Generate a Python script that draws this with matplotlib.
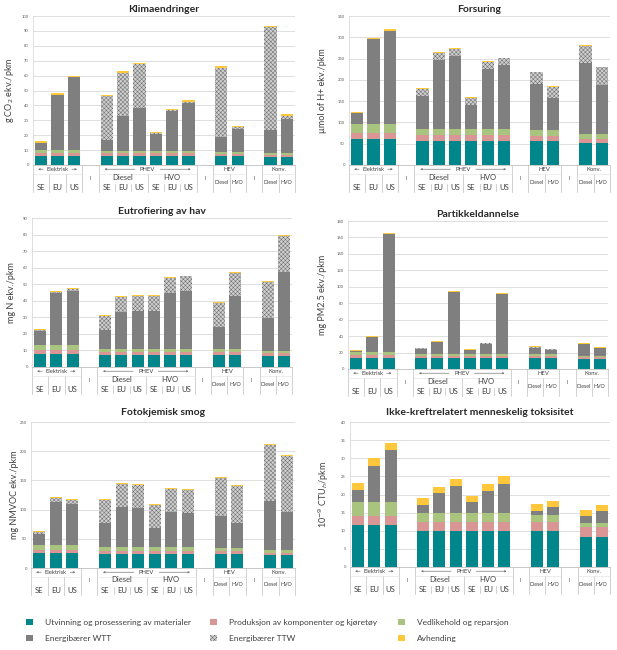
import matplotlib
matplotlib.use("Agg")
import matplotlib.pyplot as plt
from matplotlib.patches import Rectangle
from matplotlib.transforms import blended_transform_factory
import numpy as np

plt.rcParams['font.family'] = ['Lato', 'DejaVu Sans']
plt.rcParams['hatch.linewidth'] = 0.35

# ---------------- data ----------------
# bar order: Elektrisk SE/EU/US, PHEV Diesel SE/EU/US, PHEV HVO SE/EU/US,
#            HEV Diesel/HVO, Konv. Diesel/HVO
bottom_labels = ['SE', 'EU', 'US', 'SE', 'EU', 'US', 'SE', 'EU', 'US',
                 'Diesel', 'HVO', 'Diesel', 'HVO']
mid_labels = ['Diesel', 'HVO']
group_labels = ['Elektrisk', 'PHEV', 'HEV', 'Konv.']
series_names = ['Utvinning og prosessering av materialer',
                'Produksjon av komponenter og kjøretøy',
                'Vedlikehold og reparsjon',
                'Energibærer WTT', 'Energibærer TTW', 'Avhending']

klima_utv = [6.3, 6.3, 6.3, 6.2, 6.2, 6.2, 6.2, 6.2, 6.2, 6.0, 6.0, 5.5, 5.5]
klima_prod = [1.7, 1.7, 1.7, 1.6, 1.6, 1.6, 1.6, 1.6, 1.6, 1.5, 1.5, 1.5, 1.5]
klima_vedl = [2.0, 2.0, 2.0, 1.7, 1.7, 1.7, 1.7, 1.7, 1.7, 1.5, 1.5, 1.0, 1.0]
klima_wtt = [5.0, 37.0, 49.0, 7.5, 23.2, 29.0, 11.0, 26.5, 32.3, 10.0, 15.0, 15.8, 23.0]
klima_ttw = [0.0, 0.0, 0.0, 29.0, 29.3, 29.0, 0.8, 0.8, 0.8, 46.2, 1.3, 68.5, 2.0]
klima_avh = [1.0, 1.0, 1.0, 1.0, 1.0, 1.0, 0.9, 1.0, 0.9, 1.0, 1.0, 1.2, 1.0]

fors_utv = [60, 60, 60, 56.4, 56.4, 56.4, 56.4, 56.4, 56.4, 56, 56, 51, 51]
fors_prod = [14.4, 14.4, 14.4, 13.6, 13.6, 13.6, 13.6, 13.6, 13.6, 12, 12, 10, 10]
fors_vedl = [21, 21, 21, 14, 14, 14, 14, 14, 14, 14, 14, 11, 11]
fors_wtt = [26.5, 201.5, 220.5, 77, 162, 171, 57, 141.5, 150, 107.5, 74.5, 167.5, 116.7]
fors_ttw = [0, 0, 0, 18, 18, 17.5, 16, 16.5, 16.5, 28, 26.5, 40.5, 40.7]
fors_avh = [2, 2.5, 2.5, 2, 1.5, 1.5, 2, 1.5, 1.5, 1.5, 1.5, 2, 1.6]

eutro_utv = [8, 8, 8, 7.4, 7.4, 7.4, 7.4, 7.4, 7.4, 7.4, 7.4, 6.8, 6.8]
eutro_prod = [2, 2, 2, 1.6, 1.6, 1.6, 1.6, 1.6, 1.6, 1.6, 1.6, 1.4, 1.4]
eutro_vedl = [3, 3, 3, 2, 2, 2, 2, 2, 2, 1.8, 1.8, 1.4, 1.4]
eutro_wtt = [8.5, 31.6, 32.8, 11.3, 22.3, 23, 23, 34, 34.8, 13.2, 32, 20.1, 47.8]
eutro_ttw = [0.8, 1.0, 1.4, 8.7, 9.1, 9, 9, 9, 9, 14.4, 14.2, 21.7, 21.7]
eutro_avh = [0.7, 0.5, 0.4, 0.5, 0.4, 0.4, 0.4, 0.4, 0.4, 0.6, 0.6, 0.4, 0.6]

part_utv = [13.8, 13.8, 13.8, 13.4, 13.4, 13.4, 13.4, 13.4, 13.4, 13.4, 13.4, 12.6, 12.6]
part_prod = [3.2, 3.2, 3.2, 2, 2, 2, 2, 2, 2, 2, 2, 1.6, 1.6]
part_vedl = [3.7, 3.7, 3.7, 2.8, 2.8, 2.8, 2.8, 2.8, 2.8, 2.4, 2.4, 2, 2]
part_wtt = [1.8, 18.3, 143.3, 6.1, 14.2, 75, 4.5, 12.6, 72.6, 8.2, 5.2, 13.8, 8.8]
part_ttw = [0, 0, 0, 0.7, 0.8, 0.8, 0.8, 0.8, 0.8, 0.8, 1.0, 0.8, 1.0]
part_avh = [1.0, 0.7, 1.0, 0.8, 0.8, 0.5, 0.5, 0.4, 0.4, 0.8, 0.3, 0.8, 0.8]

smog_utv = [25.7, 25.7, 25.7, 24.5, 24.5, 24.5, 24.5, 24.5, 24.5, 24.5, 24.5, 21.7, 21.7]
smog_prod = [5.7, 5.7, 5.7, 4.5, 4.5, 4.5, 4.5, 4.5, 4.5, 4.5, 4.5, 4.6, 4.6]
smog_vedl = [8.6, 8.6, 8.6, 6.4, 6.4, 6.4, 6.4, 6.4, 6.4, 5.8, 5.8, 4.5, 4.5]
smog_wtt = [17.6, 72.4, 70, 41.1, 69.1, 66.6, 33.6, 59.9, 58.2, 54.8, 41.7, 83.9, 65.1]
smog_ttw = [4.6, 6.9, 6.4, 39.4, 39.3, 40, 39.4, 40, 40, 63.9, 63.9, 95.9, 95.3]
smog_avh = [1.2, 1.7, 1.6, 1.7, 1.7, 1.8, 1.6, 1.7, 1.7, 1.5, 1.6, 1.7, 1.8]

tox_utv = [11.6, 11.6, 11.6, 9.9, 9.9, 9.9, 9.9, 9.9, 9.9, 9.8, 9.8, 8.3, 8.3]
tox_prod = [2.5, 2.5, 2.5, 2.5, 2.5, 2.5, 2.5, 2.5, 2.5, 2.6, 2.6, 2.6, 2.6]
tox_vedl = [3.8, 3.8, 3.8, 2.5, 2.5, 2.5, 2.5, 2.5, 2.5, 2.0, 2.0, 1.2, 1.2]
tox_wtt = [3.4, 10, 14.3, 2.3, 5.5, 7.5, 3.0, 6.0, 8.1, 1.1, 2.2, 1.9, 3.3]
tox_ttw = [0, 0, 0, 0, 0, 0, 0, 0, 0, 0, 0, 0, 0]
tox_avh = [1.9, 2.2, 1.9, 1.9, 1.8, 1.9, 1.7, 1.9, 2.0, 1.9, 1.7, 1.7, 1.8]

# ---------------- style ----------------
C_UTV = '#00868B'
C_PROD = '#D99694'
C_VEDL = '#A9C47F'
C_WTT = '#7F7F7F'
C_TTW = '#CFCFCF'
C_HATCH = '#6E6E6E'
C_AVH = '#FFC83C'
colors = [C_UTV, C_PROD, C_VEDL, C_WTT, C_TTW, C_AVH]
HATCH = 'xxxxxxxx'

W, H = 617, 650
fig = plt.figure(figsize=(W / 100, H / 100), dpi=100)

slots = [0, 1, 2, 4, 5, 6, 7, 8, 9, 11, 12, 14, 15]


def add_ax(l, r, t, b):
    return fig.add_axes([l / W, 1 - b / H, (r - l) / W, (b - t) / H])


def draw_panel(ax, title, ylabel, ymax, ystep, series, hpx, ylab_x, title_pad=3):
    bottom = np.zeros(len(slots))
    for i, vals in enumerate(series):
        vals = np.array(vals, dtype=float)
        if i == 4:
            ax.bar(slots, vals, 0.75, bottom=bottom, color=C_TTW, edgecolor=C_HATCH,
                   hatch=HATCH, linewidth=0, zorder=3)
        else:
            ax.bar(slots, vals, 0.75, bottom=bottom, color=colors[i], linewidth=0, zorder=3)
        bottom += vals
    ax.set_xlim(-0.5, 15.5)
    ax.set_ylim(0, ymax)
    ax.set_yticks(np.arange(0, ymax + 0.01, ystep))
    ax.tick_params(axis='y', labelsize=3, colors='#595959', length=0, pad=3)
    ax.set_xticks([])
    ax.grid(axis='y', color='#D9D9D9', linewidth=0.6, zorder=0)
    for s in ['top', 'right']:
        ax.spines[s].set_visible(False)
    ax.spines['left'].set_color('#D9D9D9')
    ax.spines['left'].set_linewidth(0.6)
    ax.spines['bottom'].set_color('#BFBFBF')
    ax.spines['bottom'].set_linewidth(0.6)
    ax.set_title(title, fontsize=7.5, fontweight='bold', color='#262626', pad=title_pad)
    ax.set_ylabel(ylabel, fontsize=6.5, color='#404040')
    ax.yaxis.set_label_coords(ylab_x, 0.5)

    tr = blended_transform_factory(ax.transData, ax.transAxes)

    def fy(px):
        return -px / hpx

    lc = '#BFBFBF'
    lw = 0.5
    # vertical separators
    for x in [-0.5, 2.5, 3.5, 9.5, 10.5, 12.5, 13.5, 15.5]:
        ax.plot([x, x], [0, fy(27)], transform=tr, color=lc, lw=lw, clip_on=False)
    for x in [0.5, 1.5, 6.5, 11.5, 14.5]:
        ax.plot([x, x], [fy(8.5), fy(27)], transform=tr, color=lc, lw=lw, clip_on=False)
    for x in [4.5, 5.5, 7.5, 8.5]:
        ax.plot([x, x], [fy(19), fy(26)], transform=tr, color=lc, lw=lw, clip_on=False)
    for a, b in [(-0.5, 2.5), (3.5, 9.5), (10.5, 12.5), (13.5, 15.5)]:
        ax.plot([a, b], [fy(8.5), fy(8.5)], transform=tr, color='#E0E0E0', lw=0.4, clip_on=False)

    tcol = '#404040'
    # group labels row
    ax.text(1, fy(4.2), group_labels[0], transform=tr, ha='center', va='center',
            fontsize=4.2, color=tcol, bbox=dict(facecolor='white', edgecolor='none', pad=0.3))
    ax.text(6.5, fy(4.2), group_labels[1], transform=tr, ha='center', va='center',
            fontsize=4.2, color=tcol, bbox=dict(facecolor='white', edgecolor='none', pad=0.3))
    ax.text(11.5, fy(4.2), group_labels[2], transform=tr, ha='center', va='center',
            fontsize=4.2, color=tcol)
    ax.text(14.5, fy(4.2), group_labels[3], transform=tr, ha='center', va='center',
            fontsize=4.2, color=tcol)
    arr = dict(arrowstyle='->', lw=0.4, color='#595959', mutation_scale=3)
    for x0, x1 in [(0.3, -0.35), (1.7, 2.35), (5.9, 3.7), (7.1, 9.3)]:
        ax.annotate('', xy=(x1, fy(4.2)), xytext=(x0, fy(4.2)), xycoords=tr, textcoords=tr,
                    arrowprops=arr, annotation_clip=False)
    # PHEV mid labels
    ax.text(5, fy(12), mid_labels[0], transform=tr, ha='center', va='center', fontsize=5.5, color=tcol)
    ax.text(8, fy(12), mid_labels[1], transform=tr, ha='center', va='center', fontsize=5.5, color=tcol)
    # gap markers
    for x in [3, 10, 13]:
        ax.text(x, fy(13), 'I', transform=tr, ha='center', va='center', fontsize=3.5, color=tcol)
    # bottom labels
    for x, lab in zip(slots, bottom_labels):
        if lab in ('SE', 'EU', 'US'):
            ax.text(x, fy(22.5), lab, transform=tr, ha='center', va='center', fontsize=5.5, color=tcol)
        else:
            ax.text(x, fy(17), lab, transform=tr, ha='center', va='center', fontsize=3.8, color=tcol)


ax1 = add_ax(33, 295, 16, 165)
draw_panel(ax1, 'Klimaendringer', 'g CO$_2$ ekv./pkm', 100, 10,
           [klima_utv, klima_prod, klima_vedl, klima_wtt, klima_ttw, klima_avh], 149, -0.065)
ax2 = add_ax(349, 610, 16, 165)
draw_panel(ax2, 'Forsuring', 'µmol of H+ ekv./pkm', 350, 50,
           [fors_utv, fors_prod, fors_vedl, fors_wtt, fors_ttw, fors_avh], 149, -0.084)
ax3 = add_ax(32, 292, 218, 367)
draw_panel(ax3, 'Eutrofiering av hav', 'mg N ekv./pkm', 90, 10,
           [eutro_utv, eutro_prod, eutro_vedl, eutro_wtt, eutro_ttw, eutro_avh], 149, -0.062)
ax4 = add_ax(348, 608, 221, 369)
draw_panel(ax4, 'Partikkeldannelse', 'mg PM2.5 ekv./pkm', 180, 20,
           [part_utv, part_prod, part_vedl, part_wtt, part_ttw, part_avh], 148, -0.081)
ax5 = add_ax(31, 295, 422, 568)
draw_panel(ax5, 'Fotokjemisk smog', 'mg NMVOC ekv./pkm', 250, 50,
           [smog_utv, smog_prod, smog_vedl, smog_wtt, smog_ttw, smog_avh], 146, -0.045, title_pad=5)
ax6 = add_ax(350, 610, 422, 567)
draw_panel(ax6, 'Ikke-kreftrelatert menneskelig toksisitet', '10$^{-9}$ CTU$_h$/pkm', 40, 5,
           [tox_utv, tox_prod, tox_vedl, tox_wtt, tox_ttw, tox_avh], 145, -0.073, title_pad=5)

# ---------------- legend ----------------
leg_pos = [(26, 622), (210, 622), (398, 622), (26, 638), (210, 638), (398, 638)]
for i, (name, (px, py)) in enumerate(zip(series_names, leg_pos)):
    sz = 6.5
    if i == 4:
        r = Rectangle((px / W, 1 - (py + sz / 2) / H), sz / W, sz / H, transform=fig.transFigure,
                      facecolor=C_TTW, edgecolor=C_HATCH, hatch=HATCH, linewidth=0)
    else:
        r = Rectangle((px / W, 1 - (py + sz / 2) / H), sz / W, sz / H, transform=fig.transFigure,
                      facecolor=colors[i], linewidth=0)
    fig.add_artist(r)
    fig.text((px + 19) / W, 1 - py / H, name, fontsize=6, color='#404040', va='center', ha='left')

fig.savefig('out.png', dpi=100, facecolor='white')
